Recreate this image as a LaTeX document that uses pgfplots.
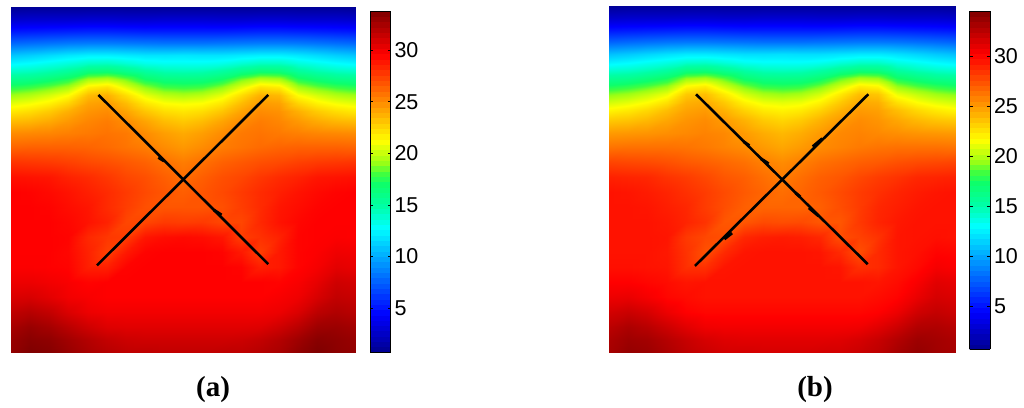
\documentclass[border=0pt]{standalone}
\usepackage{pgfplots}
\pgfplotsset{compat=1.18}
\usepackage{pgfplotstable}
\usepackage{fontspec}
\setmainfont{Liberation Sans}
\newfontfamily\capfont{Liberation Serif}
\pgfplotstableread[row sep=\\]{
x y v\\
0 0 0.9\\1 0 1.0\\2 0 1.0\\3 0 1.0\\4 0 1.0\\5 0 1.0\\6 0 1.0\\7 0 1.0\\8 0 1.0\\9 0 1.0\\10 0 1.0\\11 0 1.0\\12 0 1.0\\13 0 1.0\\14 0 1.0\\15 0 1.0\\16 0 1.0\\17 0 1.0\\18 0 0.9\\
0 12 2.7\\1 12 2.8\\2 12 2.8\\3 12 2.8\\4 12 2.9\\5 12 2.9\\6 12 2.8\\7 12 2.8\\8 12 2.9\\9 12 2.9\\10 12 2.9\\11 12 2.8\\12 12 2.8\\13 12 2.9\\14 12 2.9\\15 12 2.8\\16 12 2.8\\17 12 2.8\\18 12 2.7\\
0 24 5.1\\1 24 5.2\\2 24 5.3\\3 24 5.4\\4 24 5.5\\5 24 5.5\\6 24 5.4\\7 24 5.3\\8 24 5.3\\9 24 5.3\\10 24 5.3\\11 24 5.3\\12 24 5.4\\13 24 5.5\\14 24 5.5\\15 24 5.4\\16 24 5.3\\17 24 5.2\\18 24 5.1\\
0 36 7.8\\1 36 8.0\\2 36 8.2\\3 36 8.4\\4 36 8.5\\5 36 8.5\\6 36 8.4\\7 36 8.3\\8 36 8.2\\9 36 8.2\\10 36 8.2\\11 36 8.3\\12 36 8.4\\13 36 8.5\\14 36 8.5\\15 36 8.4\\16 36 8.2\\17 36 8.0\\18 36 7.8\\
0 48 10.9\\1 48 11.2\\2 48 11.6\\3 48 12.0\\4 48 12.3\\5 48 12.3\\6 48 12.1\\7 48 11.9\\8 48 11.9\\9 48 12.0\\10 48 11.9\\11 48 11.9\\12 48 12.1\\13 48 12.3\\14 48 12.3\\15 48 12.0\\16 48 11.6\\17 48 11.2\\18 48 10.9\\
0 56 12.5\\1 56 12.8\\2 56 13.2\\3 56 13.6\\4 56 14.1\\5 56 14.2\\6 56 13.8\\7 56 13.3\\8 56 13.1\\9 56 13.1\\10 56 13.1\\11 56 13.3\\12 56 13.8\\13 56 14.2\\14 56 14.2\\15 56 13.6\\16 56 13.2\\17 56 12.8\\18 56 12.5\\
0 64 14.1\\1 64 14.3\\2 64 14.7\\3 64 15.3\\4 64 16.4\\5 64 16.6\\6 64 15.9\\7 64 15.1\\8 64 14.6\\9 64 14.5\\10 64 14.6\\11 64 15.1\\12 64 15.9\\13 64 16.6\\14 64 16.5\\15 64 15.3\\16 64 14.7\\17 64 14.3\\18 64 14.1\\
0 72 15.8\\1 72 16.0\\2 72 16.6\\3 72 17.4\\4 72 19.3\\5 72 19.7\\6 72 18.6\\7 72 17.0\\8 72 16.3\\9 72 16.2\\10 72 16.3\\11 72 17.0\\12 72 18.6\\13 72 19.7\\14 72 19.4\\15 72 17.4\\16 72 16.6\\17 72 16.0\\18 72 15.8\\
0 80 17.5\\1 80 17.9\\2 80 18.5\\3 80 19.4\\4 80 21.7\\5 80 22.2\\6 80 20.6\\7 80 19.0\\8 80 18.0\\9 80 17.8\\10 80 18.0\\11 80 19.0\\12 80 20.6\\13 80 22.2\\14 80 21.8\\15 80 19.4\\16 80 18.5\\17 80 17.9\\18 80 17.5\\
0 88 19.2\\1 88 19.6\\2 88 20.3\\3 88 21.2\\4 88 23.4\\5 88 23.8\\6 88 22.3\\7 88 20.7\\8 88 19.8\\9 88 19.5\\10 88 19.8\\11 88 20.7\\12 88 22.3\\13 88 23.8\\14 88 23.5\\15 88 21.2\\16 88 20.3\\17 88 19.6\\18 88 19.2\\
0 96 20.6\\1 96 21.0\\2 96 21.6\\3 96 22.6\\4 96 24.2\\5 96 24.5\\6 96 23.4\\7 96 22.0\\8 96 21.2\\9 96 21.0\\10 96 21.2\\11 96 22.0\\12 96 23.4\\13 96 24.5\\14 96 24.3\\15 96 22.6\\16 96 21.6\\17 96 21.0\\18 96 20.6\\
0 104 21.9\\1 104 22.3\\2 104 22.9\\3 104 23.8\\4 104 24.7\\5 104 25.0\\6 104 24.2\\7 104 23.1\\8 104 22.3\\9 104 22.0\\10 104 22.3\\11 104 23.1\\12 104 24.2\\13 104 25.0\\14 104 24.8\\15 104 23.8\\16 104 22.9\\17 104 22.3\\18 104 21.9\\
0 114 23.4\\1 114 23.6\\2 114 24.0\\3 114 24.6\\4 114 25.2\\5 114 25.5\\6 114 25.0\\7 114 24.2\\8 114 23.4\\9 114 23.0\\10 114 23.4\\11 114 24.2\\12 114 25.0\\13 114 25.5\\14 114 25.2\\15 114 24.6\\16 114 24.0\\17 114 23.6\\18 114 23.4\\
0 126 25.0\\1 126 25.1\\2 126 25.2\\3 126 25.4\\4 126 25.6\\5 126 25.8\\6 126 25.6\\7 126 25.0\\8 126 24.4\\9 126 24.0\\10 126 24.4\\11 126 25.0\\12 126 25.6\\13 126 25.8\\14 126 25.6\\15 126 25.4\\16 126 25.2\\17 126 25.1\\18 126 25.0\\
0 140 26.3\\1 140 26.4\\2 140 26.4\\3 140 26.4\\4 140 26.3\\5 140 26.1\\6 140 25.8\\7 140 25.5\\8 140 25.0\\9 140 24.6\\10 140 25.0\\11 140 25.5\\12 140 25.8\\13 140 26.1\\14 140 26.3\\15 140 26.4\\16 140 26.4\\17 140 26.4\\18 140 26.3\\
0 155 27.9\\1 155 27.8\\2 155 27.7\\3 155 27.5\\4 155 27.2\\5 155 27.0\\6 155 26.7\\7 155 26.4\\8 155 25.9\\9 155 25.5\\10 155 25.9\\11 155 26.4\\12 155 26.7\\13 155 27.0\\14 155 27.2\\15 155 27.5\\16 155 27.7\\17 155 27.8\\18 155 27.9\\
0 170 29.1\\1 170 29.0\\2 170 28.9\\3 170 28.5\\4 170 28.2\\5 170 27.8\\6 170 27.3\\7 170 27.0\\8 170 26.5\\9 170 26.0\\10 170 26.5\\11 170 27.0\\12 170 27.3\\13 170 27.8\\14 170 28.2\\15 170 28.5\\16 170 28.9\\17 170 29.0\\18 170 29.1\\
0 185 29.6\\1 185 29.5\\2 185 29.3\\3 185 29.0\\4 185 28.6\\5 185 28.2\\6 185 27.7\\7 185 27.2\\8 185 26.8\\9 185 26.5\\10 185 26.8\\11 185 27.2\\12 185 27.7\\13 185 28.2\\14 185 28.6\\15 185 29.0\\16 185 29.3\\17 185 29.5\\18 185 29.6\\
0 200 29.6\\1 200 29.6\\2 200 29.5\\3 200 29.2\\4 200 28.9\\5 200 28.2\\6 200 27.6\\7 200 27.0\\8 200 26.8\\9 200 26.8\\10 200 26.8\\11 200 27.0\\12 200 27.6\\13 200 28.2\\14 200 28.9\\15 200 29.2\\16 200 29.5\\17 200 29.6\\18 200 29.6\\
0 215 29.6\\1 215 29.6\\2 215 29.6\\3 215 29.4\\4 215 29.0\\5 215 28.5\\6 215 27.3\\7 215 27.3\\8 215 27.7\\9 215 27.6\\10 215 27.7\\11 215 27.3\\12 215 27.3\\13 215 28.3\\14 215 29.0\\15 215 29.4\\16 215 29.6\\17 215 29.6\\18 215 29.6\\
0 230 29.6\\1 230 29.6\\2 230 29.6\\3 230 29.5\\4 230 28.3\\5 230 27.8\\6 230 27.6\\7 230 28.9\\8 230 29.2\\9 230 29.3\\10 230 29.2\\11 230 28.9\\12 230 27.6\\13 230 28.0\\14 230 28.5\\15 230 29.5\\16 230 29.6\\17 230 29.7\\18 230 29.6\\
0 245 29.6\\1 245 29.6\\2 245 29.6\\3 245 29.4\\4 245 28.5\\5 245 27.5\\6 245 28.8\\7 245 29.5\\8 245 29.6\\9 245 29.6\\10 245 29.6\\11 245 29.5\\12 245 28.8\\13 245 27.6\\14 245 28.8\\15 245 29.5\\16 245 29.7\\17 245 30.1\\18 245 30.0\\
0 260 29.7\\1 260 29.7\\2 260 29.6\\3 260 29.5\\4 260 28.6\\5 260 28.6\\6 260 29.5\\7 260 29.6\\8 260 29.6\\9 260 29.6\\10 260 29.6\\11 260 29.6\\12 260 29.5\\13 260 28.6\\14 260 28.8\\15 260 29.5\\16 260 29.9\\17 260 30.5\\18 260 30.3\\
0 275 30.2\\1 275 30.2\\2 275 30.0\\3 275 29.8\\4 275 29.5\\5 275 29.6\\6 275 29.6\\7 275 29.6\\8 275 29.6\\9 275 29.6\\10 275 29.6\\11 275 29.6\\12 275 29.6\\13 275 29.6\\14 275 29.5\\15 275 29.8\\16 275 30.4\\17 275 31.2\\18 275 31.0\\
0 290 30.8\\1 290 30.9\\2 290 30.5\\3 290 30.0\\4 290 29.8\\5 290 29.6\\6 290 29.6\\7 290 29.6\\8 290 29.6\\9 290 29.6\\10 290 29.6\\11 290 29.6\\12 290 29.6\\13 290 29.6\\14 290 29.8\\15 290 30.1\\16 290 30.9\\17 290 31.6\\18 290 31.4\\
0 305 31.7\\1 305 32.0\\2 305 31.6\\3 305 30.8\\4 305 30.2\\5 305 30.0\\6 305 30.0\\7 305 30.0\\8 305 30.0\\9 305 30.0\\10 305 30.0\\11 305 30.0\\12 305 30.0\\13 305 30.0\\14 305 30.2\\15 305 30.8\\16 305 31.8\\17 305 32.2\\18 305 31.9\\
0 320 32.5\\1 320 33.0\\2 320 32.6\\3 320 31.9\\4 320 31.2\\5 320 30.7\\6 320 30.6\\7 320 30.6\\8 320 30.6\\9 320 30.6\\10 320 30.6\\11 320 30.6\\12 320 30.6\\13 320 30.7\\14 320 31.2\\15 320 31.9\\16 320 32.8\\17 320 32.9\\18 320 32.6\\
0 333 33.0\\1 333 33.5\\2 333 33.3\\3 333 32.7\\4 333 32.1\\5 333 31.6\\6 333 31.3\\7 333 31.2\\8 333 31.2\\9 333 31.2\\10 333 31.2\\11 333 31.2\\12 333 31.3\\13 333 31.6\\14 333 32.1\\15 333 32.8\\16 333 33.5\\17 333 33.3\\18 333 33.0\\
0 345 33.2\\1 345 33.8\\2 345 33.6\\3 345 33.0\\4 345 32.4\\5 345 32.0\\6 345 31.7\\7 345 31.7\\8 345 31.6\\9 345 31.6\\10 345 31.6\\11 345 31.7\\12 345 31.7\\13 345 32.0\\14 345 32.4\\15 345 33.2\\16 345 33.8\\17 345 33.4\\18 345 33.2\\
}\fieldtable
\pgfplotsset{
  heat/.style={
    scale only axis, clip=true, axis on top=false,
    xmin=0, xmax=18, ymin=0, ymax=345, y dir=reverse,
    xtick=\empty, ytick=\empty, axis line style={draw=none},
    colormap={matjet}{rgb(0)=(0,0,.5625) rgb(7)=(0,0,1) rgb(23)=(0,1,1) rgb(27)=(0,1,.65) rgb(31)=(.05,1,.42) rgb(33)=(.25,1,.25) rgb(35)=(.6,1,.08) rgb(39)=(1,1,0) rgb(55)=(1,0,0) rgb(63)=(.5,0,0)},
    colorbar right, colorbar sampled,
    /pgf/number format/assume math mode=true,
  },
  cbstyle/.style={
    samples=65, ytick={5,10,15,20,25,30},
    tick align=inside, ytick pos=both, yticklabel pos=right, major tick length=3pt,
    tick style={black, line width=0.7pt}, axis line style={black, line width=0.8pt},
    yticklabel style={font=\fontsize{21.5}{21.5}\selectfont, xshift=0.5pt, /pgf/number format/assume math mode=true},
    scale only axis,
  },
}
\begin{document}
\begin{tikzpicture}[x=1pt,y=1pt]
\path[use as bounding box] (0,0) rectangle (1024,407);
\begin{axis}[heat, at={(11pt,55pt)}, anchor=south west, width=344.5pt, height=345pt,
  point meta min=0.73, point meta max=33.8,
  colorbar style={cbstyle, at={(1.0421,0)}, anchor=south west, width=20.5pt, height=341pt}]
\addplot[surf, shader=interp, mesh/cols=19, mesh/ordering=x varies, point meta=\thisrow{v}] table[x=x,y=y] {\fieldtable};
\addplot[black, line width=2.6pt] coordinates {(4.57,87.9) (13.44,257.1)};
\addplot[black, line width=2.6pt] coordinates {(13.44,87.9) (4.49,258.4)};
\addplot[black, line width=3.0pt] coordinates {(7.7,150.5) (8.0,154)};
\addplot[black, line width=3.0pt] coordinates {(10.6,203) (11.0,208)};
\end{axis}
\node[font=\capfont\fontsize{29}{29}\selectfont\bfseries] at (213,17.5) {(a)};
\begin{axis}[heat, at={(609pt,54.5pt)}, anchor=south west, width=346pt, height=346.5pt,
  point meta min=0.65, point meta max=34.5,
  colorbar style={cbstyle, at={(1.0419,0.0087)}, anchor=south west, width=20.5pt, height=338.5pt}]
\addplot[surf, shader=interp, mesh/cols=19, mesh/ordering=x varies, point meta=\thisrow{v}] table[x=x,y=y] {\fieldtable};
\addplot[black, line width=2.6pt] coordinates {(4.53,87.9) (13.46,257.1)};
\addplot[black, line width=2.6pt] coordinates {(13.49,87.9) (4.47,258.8)};
\addplot[black, line width=3.0pt] coordinates {(7.0,135) (7.3,139)};
\addplot[black, line width=3.0pt] coordinates {(7.9,152) (8.3,157)};
\addplot[black, line width=3.0pt] coordinates {(9.7,186) (9.95,190)};
\addplot[black, line width=3.0pt] coordinates {(10.4,201) (10.9,209)};
\addplot[black, line width=3.0pt] coordinates {(10.6,140) (11.1,132)};
\addplot[black, line width=3.0pt] coordinates {(6.0,232) (6.4,226)};
\end{axis}
\node[font=\capfont\fontsize{29}{29}\selectfont\bfseries] at (815,17.5) {(b)};
\end{tikzpicture}
\end{document}
